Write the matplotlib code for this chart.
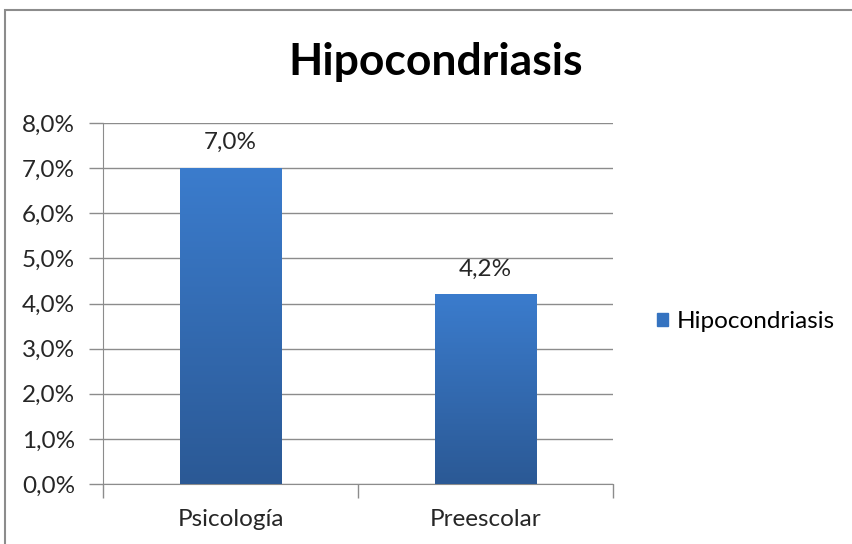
import matplotlib
matplotlib.use("Agg")
import matplotlib.pyplot as plt
import numpy as np
from matplotlib.patches import Rectangle
from matplotlib.ticker import FuncFormatter, MultipleLocator
from matplotlib.colors import LinearSegmentedColormap

categories = ["Psicología", "Preescolar"]
values = [7.0, 4.2]
series_name = "Hipocondriasis"
title = "Hipocondriasis"

plt.rcParams['font.family'] = ['Lato', 'DejaVu Sans']
FS = 17.5

fig = plt.figure(figsize=(8.52, 5.44), dpi=100)
ax = fig.add_axes([103/852, 1-484/544, 510/852, 361/544])

# figure border
fig.patches.append(Rectangle((5/852, -0.01), 1.0, 1-10/544+0.01, transform=fig.transFigure,
                             fill=False, edgecolor="#8c8c8c", linewidth=1.5))

x = np.arange(len(categories))
bars = ax.bar(x, values, width=0.4, color="#3573c0", zorder=2)

grad = np.linspace(0, 1, 256).reshape(-1, 1)
cmap = LinearSegmentedColormap.from_list("g", ["#2b5995", "#3b7ccd"])
for b in bars:
    x0, y0, w, h = b.get_x(), b.get_y(), b.get_width(), b.get_height()
    im = ax.imshow(grad, extent=(x0, x0 + w, y0, y0 + h), origin="lower", cmap=cmap,
                   aspect="auto", zorder=3, interpolation="bilinear")
    im.set_clip_path(b)

for xi, v in zip(x, values):
    ax.text(xi, v + 0.33, f"{v:.1f}%".replace(".", ","), ha="center", va="bottom",
            fontsize=FS, color="#262626")

ax.set_xlim(-0.5, 1.5)
ax.set_ylim(0, 8)
ax.yaxis.set_major_locator(MultipleLocator(1))
ax.yaxis.set_major_formatter(FuncFormatter(lambda v, p: f"{v:.1f}%".replace(".", ",")))
ax.set_xticks([-0.5, 0.5, 1.5])
ax.set_xticklabels([])
ax.set_xticks(x, minor=True)
ax.set_xticklabels(categories, minor=True)
ax.tick_params(axis="x", which="minor", length=0, pad=18, labelsize=FS, labelcolor="#262626")
ax.tick_params(axis="x", which="major", length=10, color="#8c8c8c", width=1)
ax.tick_params(axis="y", length=10, color="#8c8c8c", width=1, labelsize=FS, labelcolor="#262626", pad=10)

ax.grid(axis="y", color="#8c8c8c", linewidth=1, zorder=0)
ax.set_axisbelow(True)
for s in ["top", "right"]:
    ax.spines[s].set_visible(False)
for s in ["left", "bottom"]:
    ax.spines[s].set_color("#8c8c8c")

fig.text(436/852, 1-62/544, title, ha="center", va="center", fontsize=32, fontweight="bold")

handle = Rectangle((0, 0), 1, 1, color="#3573c0")
fig.legend([handle], [series_name], loc="center left", bbox_to_anchor=(635/852, 1-322/544),
           frameon=False, fontsize=FS, handlelength=0.45, handleheight=0.45, handletextpad=0.37)

fig.savefig("out.png", dpi=100)
